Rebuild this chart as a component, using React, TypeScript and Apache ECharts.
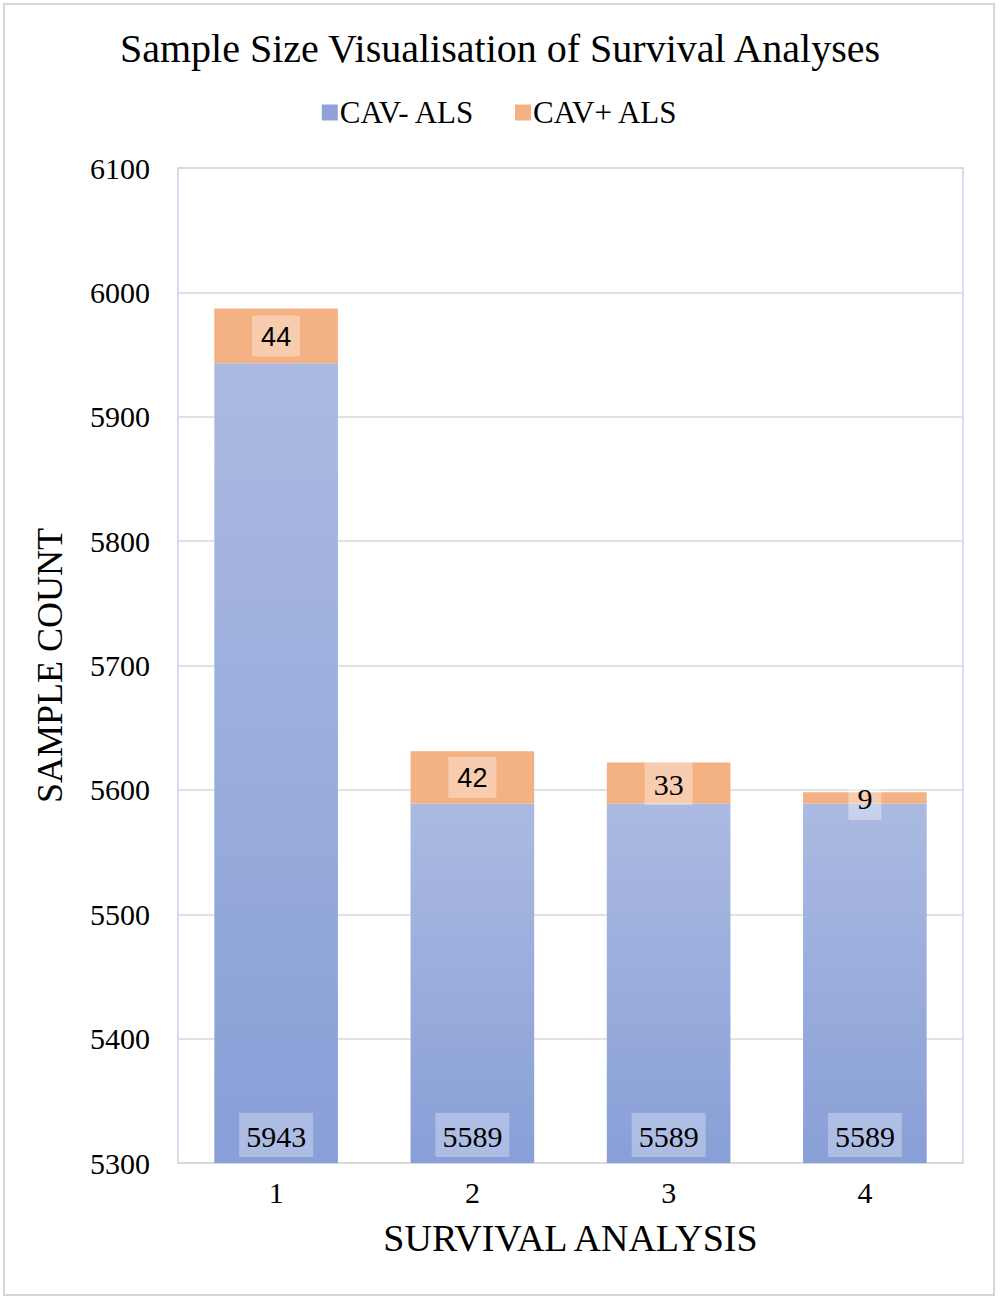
import React, { useEffect, useRef } from "react";
import * as echarts from "echarts";

const categories = ["1", "2", "3", "4"];
const cavNeg = [5943, 5589, 5589, 5589];
const cavPos = [44, 42, 33, 9];
const cavPosLabelFont = ["sans", "sans", "serif", "serif"];

const SERIF = '"Liberation Serif", "Times New Roman", serif';
const SANS = '"Liberation Sans", Arial, sans-serif';

export default function App() {
  const ref = useRef<HTMLDivElement>(null);
  useEffect(() => {
    if (!ref.current) return;
    const chart = echarts.init(ref.current, undefined, { renderer: "svg" });
    chart.setOption({
      animation: false,
      backgroundColor: "#ffffff",
      textStyle: { fontFamily: SERIF, color: "#000" },
      title: {
        text: "Sample Size Visualisation of Survival Analyses",
        left: "center",
        top: 23,
        textStyle: { fontFamily: SERIF, fontSize: 40, fontWeight: "normal", color: "#000" },
      },
      legend: {
        top: 92,
        left: "center",
        itemWidth: 16,
        itemHeight: 16,
        itemGap: 40,
        icon: "rect",
        textStyle: { fontFamily: SERIF, fontSize: 31, color: "#000", padding: [0, 0, 0, -3] },
        data: [
          { name: "CAV- ALS", itemStyle: { color: "#8fa3d9" } },
          { name: "CAV+ ALS", itemStyle: { color: "#f4b183" } },
        ],
      },
      graphic: [
        {
          type: "rect",
          shape: { x: 4, y: 4, width: 990, height: 1291 },
          style: { fill: "none", stroke: "#d6d6d6", lineWidth: 2 },
          silent: true,
          z: -1,
        },
      ],
      grid: {
        left: 178,
        right: 37,
        top: 168,
        bottom: 137,
        show: true,
        borderColor: "#c3d2ec",
        borderWidth: 1.5,
      },
      xAxis: {
        type: "category",
        data: categories,
        name: "SURVIVAL ANALYSIS",
        nameLocation: "middle",
        nameGap: 56,
        nameTextStyle: { fontFamily: SERIF, fontSize: 38, color: "#000" },
        axisLine: { show: true, lineStyle: { color: "#d9d9d9", width: 1.5 } },
        axisTick: { show: false },
        axisLabel: { fontFamily: SERIF, fontSize: 30, color: "#000", margin: 14 },
      },
      yAxis: {
        type: "value",
        min: 5300,
        max: 6100,
        interval: 100,
        name: "SAMPLE COUNT",
        nameLocation: "middle",
        nameGap: 110,
        nameTextStyle: { fontFamily: SERIF, fontSize: 36, color: "#000" },
        axisLine: { show: false },
        axisTick: { show: false },
        axisLabel: {
          fontFamily: SERIF,
          fontSize: 30,
          color: "#000",
          margin: 28,
          formatter: (v: number) => String(v),
        },
        splitLine: { lineStyle: { color: "#d9d9d9", width: 1.5 } },
      },
      series: [
        {
          name: "CAV- ALS",
          type: "bar",
          stack: "total",
          barWidth: "63%",
          data: cavNeg,
          itemStyle: {
            color: new echarts.graphic.LinearGradient(0, 0, 0, 1, [
              { offset: 0, color: "#abbae1" },
              { offset: 1, color: "#889fd7" },
            ]),
          },
          label: {
            show: true,
            position: "insideBottom",
            distance: 6,
            formatter: "{s|{c}}",
            backgroundColor: "rgba(255,255,255,0.3)",
            padding: [8, 7, 6, 7],
            rich: { s: { fontFamily: SERIF, fontSize: 30, color: "#000" } },
          },
        },
        {
          name: "CAV+ ALS",
          type: "bar",
          stack: "total",
          barWidth: "63%",
          data: cavPos.map((v, i) => ({
            value: v,
            label: {
              formatter: cavPosLabelFont[i] === "sans" ? "{a|{c}}" : "{s|{c}}",
            },
          })),
          itemStyle: { color: "#f4b183" },
          label: {
            show: true,
            position: "inside",
            backgroundColor: "rgba(255,255,255,0.35)",
            padding: [8, 9, 6, 9],
            rich: {
              a: { fontFamily: SANS, fontSize: 27, color: "#000" },
              s: { fontFamily: SERIF, fontSize: 30, color: "#000" },
            },
          },
        },
      ],
    });
    return () => chart.dispose();
  }, []);
  return (
    <div
      ref={ref}
      style={{ position: "absolute", left: 0, top: 0, width: 1000, height: 1300 }}
    />
  );
}
